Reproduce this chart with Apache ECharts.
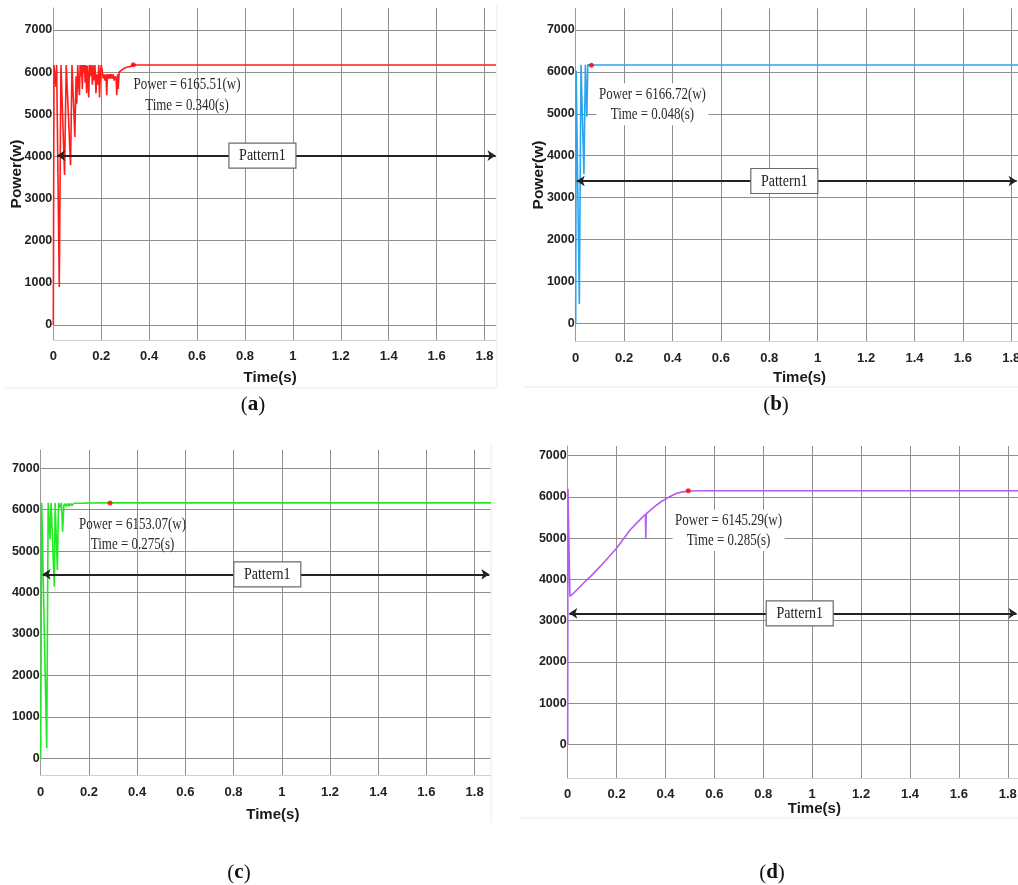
<!DOCTYPE html>
<html><head><meta charset="utf-8">
<script src="https://cdn.jsdelivr.net/npm/echarts@6/dist/echarts.min.js"></script>
<style>html,body{margin:0;padding:0;background:#fff}#c{width:1018px;height:885px}</style>
</head><body><div id="c"></div>
<script>
// ---------- DATA ----------
const panelLetters = ['a', 'b', 'c', 'd'];
const xTitle = 'Time(s)';
const yTitle = 'Power(w)';
const patternLabel = 'Pattern1';

// (a) red
const powerA = [
  [0,0],[0.003,6170],[0.008,6170],[0.011,5650],[0.014,6170],[0.017,6170],[0.025,900],[0.032,6170],
  [0.037,6170],[0.047,3560],[0.054,6170],[0.062,6170],[0.072,3790],[0.078,6170],[0.083,6170],[0.09,4460],
  [0.095,5900],[0.098,5250],[0.102,6170],[0.106,5700],[0.109,5450],[0.112,6170],[0.115,5900],[0.118,6170],
  [0.121,5600],[0.124,6170],[0.127,6000],[0.13,6170],[0.133,5750],[0.136,6170],[0.139,5500],[0.142,6150],
  [0.145,5850],[0.148,5400],[0.151,6170],[0.154,5900],[0.157,6170],[0.16,6100],[0.163,5700],[0.166,6170],
  [0.17,5800],[0.174,6170],[0.178,5500],[0.182,5950],[0.186,5700],[0.19,6170],[0.193,5400],[0.197,6000],
  [0.2,6170],[0.204,6050],[0.208,5850],[0.212,5950],[0.216,5800],[0.22,5950],[0.223,5450],[0.226,5950],
  [0.23,5850],[0.234,5950],[0.238,5850],[0.242,5950],[0.246,5850],[0.25,5950],[0.254,5800],[0.258,5900],
  [0.262,5850],[0.265,5450],[0.268,5950],[0.271,5600],[0.275,6000],[0.28,5980],[0.285,6050],[0.29,6040],
  [0.295,6090],[0.3,6080],[0.31,6120],[0.32,6130],[0.334,6170],[1.848,6170]
];
// (b) blue
const powerB = [
  [0,0],[0.002,6030],[0.006,6030],[0.015,460],[0.022,6170],[0.027,6170],[0.034,3560],[0.04,6170],
  [0.043,6170],[0.046,4930],[0.05,6170],[0.065,6165],[1.85,6165]
];
// (c) green
const powerC = [
  [0,0],[0.004,6165],[0.012,6165],[0.025,240],[0.031,6165],[0.034,6165],[0.0386,5285],[0.043,6165],
  [0.047,6165],[0.0565,4142],[0.06,6165],[0.063,6165],[0.069,4545],[0.074,6165],[0.078,6165],[0.082,6050],
  [0.086,6165],[0.091,5470],[0.096,6100],[0.1,6150],[0.106,6080],[0.112,6150],[0.118,6090],[0.124,6150],
  [0.13,6100],[0.136,6150],[0.142,6110],[0.148,6155],[0.154,6115],[0.16,6155],[0.166,6125],[0.172,6158],
  [0.178,6132],[0.184,6160],[0.19,6142],[0.198,6163],[0.2876,6165],[1.868,6165]
];
// (d) purple
const powerD = [
  [0,0],[0.001,6200],[0.009,3590],[0.02,3640],[0.064,3905],[0.1,4110],[0.132,4308],[0.166,4530],[0.2,4754],
  [0.228,4980],[0.255,5198],[0.288,5400],[0.318,5580],[0.3195,4980],[0.321,5590],[0.342,5700],[0.364,5804],
  [0.385,5895],[0.405,5966],[0.425,6030],[0.446,6087],[0.47,6122],[0.493,6145],[0.55,6150],[1.85,6150]
];
// settle markers (red dots)
const settleA = [[0.334, 6175]];
const settleB = [[0.065, 6160]];
const settleC = [[0.2876, 6165]];
const settleD = [[0.493, 6152]];
// data-tip texts
const tipPower = ['Power = 6165.51(w)', 'Power = 6166.72(w)', 'Power = 6153.07(w)', 'Power = 6145.29(w)'];
const tipTime = ['Time = 0.340(s)', 'Time = 0.048(s)', 'Time = 0.275(s)', 'Time = 0.285(s)'];

// ---------- LAYOUT / STYLE ----------
const series = [powerA, powerB, powerC, powerD];
const settles = [settleA, settleB, settleC, settleD];
const colors = ['#ff1c1c', '#2ea4ee', '#22ea22', '#b25cf2'];
const grids = [
  {left: 53.3, top: 8, width: 442.7, height: 332},
  {left: 575.7, top: 8.3, width: 447.7, height: 333.4},
  {left: 40.7, top: 450, width: 450.3, height: 325.7},
  {left: 567.7, top: 446, width: 452.3, height: 332.3}
];
const xMax = [1.848, 1.85, 1.868, 1.85];
const yMin = [-356, -440, -420, -825];
const yMax = [7522, 7518, 7442, 7235];
const xNameGap = [30, 29, 32, 23];
const xNamePad = [[0, 9, 0, 0], [0, 0, 0, 0], [0, 0, 0, 14], [0, 0, 0, 41]];
// annotation placement (data coords)
const tipPos = [[0.558, 5719, 5221], [0.317, 5465, 4988], [0.381, 5648, 5173], [0.658, 5423, 4955]];
const tipBg = [false, true, false, true];
const arrowPos = [[0.016, 1.846, 4020], [0.004, 1.822, 3396], [0.008, 1.861, 4441], [0.0065, 1.836, 3177]];
const boxPos = [[0.873, 4020], [0.862, 3396], [0.940, 4441], [0.949, 3177]];
const captionPos = [[253, 405], [776, 405], [239, 873], [772, 873]];

const SANS = "'Liberation Sans',Arial,sans-serif";
const SERIF = "'Liberation Serif','Times New Roman',serif";
const GRID_C = '#8e8e8e';

const fmtY = v => (Math.abs(v % 1000) < 1e-6 ? String(Math.round(v)) : '');
const fmtX = v => { const k = v / 0.2; return Math.abs(k - Math.round(k)) < 1e-6 ? String(+v.toFixed(1)) : ''; };

const chart = echarts.init(document.getElementById('c'), null, {renderer: 'canvas'});

const option = {
  animation: false,
  backgroundColor: '#fff',
  grid: grids.map(g => Object.assign({containLabel: false, outerBoundsMode: 'none'}, g)),
  xAxis: grids.map((g, i) => ({
    type: 'value', gridIndex: i, min: 0, max: xMax[i], interval: 0.2,
    name: xTitle, nameLocation: 'middle', nameGap: xNameGap[i], nameMoveOverlap: false,
    nameTextStyle: {fontFamily: SANS, fontWeight: 'bold', fontSize: 15, color: '#1a1a1a', padding: xNamePad[i]},
    axisLine: {show: true, onZero: false, lineStyle: {color: '#d0d0d0', width: 1}},
    axisTick: {show: false},
    axisLabel: {fontFamily: SANS, fontWeight: 'bold', fontSize: 13, color: '#222', margin: 10, formatter: fmtX, hideOverlap: false},
    splitLine: {show: true, showMaxLine: false, lineStyle: {color: GRID_C, width: 1}}
  })),
  yAxis: grids.map((g, i) => ({
    type: 'value', gridIndex: i, min: yMin[i], max: yMax[i], minInterval: 1000, maxInterval: 1000, splitNumber: 8,
    name: i < 2 ? yTitle : '', nameLocation: 'middle', nameGap: 29, nameRotate: 90, nameMoveOverlap: false,
    nameTextStyle: {fontFamily: SANS, fontWeight: 'bold', fontSize: 15.5, color: '#1a1a1a'},
    axisLine: {show: true, lineStyle: {color: '#9a9a9a', width: 1}},
    axisTick: {show: false},
    axisLabel: {fontFamily: SANS, fontWeight: 'bold', fontSize: 12.5, color: '#222', margin: 1, padding: [4, 0, 0, 0], formatter: fmtY, hideOverlap: false},
    splitLine: {show: true, showMinLine: false, showMaxLine: false, lineStyle: {color: GRID_C, width: 1}}
  })),
  series: []
};

series.forEach((data, i) => {
  option.series.push({
    type: 'line', xAxisIndex: i, yAxisIndex: i, data: data, showSymbol: false, symbol: 'none',
    lineStyle: {color: colors[i], width: 1.6}, itemStyle: {color: colors[i]}, z: 3, silent: true,
    markLine: {
      silent: true, symbol: ['arrow', 'arrow'], symbolSize: [8, 8], animation: false,
      label: {show: false},
      lineStyle: {color: '#222', width: 1.8, type: 'solid'},
      emphasis: {disabled: true},
      data: [[{coord: [arrowPos[i][0], arrowPos[i][2]]}, {coord: [arrowPos[i][1], arrowPos[i][2]]}]]
    }
  });
  option.series.push({
    type: 'scatter', xAxisIndex: i, yAxisIndex: i, data: settles[i], symbolSize: 5,
    itemStyle: {color: '#ff0000'}, z: 5, silent: true
  });
});

chart.setOption(option);

// ---------- annotations placed through the axes ----------
const px = (i, t, v) => chart.convertToPixel({xAxisIndex: i, yAxisIndex: i}, [t, v]);
const gfx = [];
tipPos.forEach((p, i) => {
  const a = px(i, p[0], p[1]);
  const b = px(i, p[0], p[2]);
  if (tipBg[i]) {
    gfx.push({type: 'rect', z: 50, shape: {x: a[0] - 56, y: a[1] - 11, width: 112, height: (b[1] - a[1]) + 22},
      style: {fill: '#fff'}});
  }
  gfx.push({type: 'text', z: 60, x: a[0], y: a[1], scaleX: 0.74,
    style: {text: tipPower[i], fontFamily: SERIF, fontSize: 17.5, fill: '#2a2a2a', align: 'center', verticalAlign: 'middle'}});
  gfx.push({type: 'text', z: 60, x: b[0], y: b[1], scaleX: 0.74,
    style: {text: tipTime[i], fontFamily: SERIF, fontSize: 17.5, fill: '#2a2a2a', align: 'center', verticalAlign: 'middle'}});
});
boxPos.forEach((p, i) => {
  const c = px(i, p[0], p[1]);
  gfx.push({type: 'rect', z: 70, shape: {x: c[0] - 33.5, y: c[1] - 12.5, width: 67, height: 25},
    style: {fill: '#fff', stroke: '#6a6a6a', lineWidth: 1.2}});
  gfx.push({type: 'text', z: 71, x: c[0], y: c[1], scaleX: 0.8,
    style: {text: patternLabel, fontFamily: SERIF, fontSize: 17.5, fill: '#222', align: 'center', verticalAlign: 'middle'}});
});
captionPos.forEach((p, i) => {
  gfx.push({type: 'text', z: 60, x: p[0], y: p[1],
    style: {text: '{p|(}{b|' + panelLetters[i] + '}{p|)}', align: 'center', verticalAlign: 'middle',
      rich: {p: {fontFamily: SERIF, fontSize: 21, fill: '#111'}, b: {fontFamily: SERIF, fontSize: 21, fontWeight: 'bold', fill: '#111'}}}});
});
// faint figure frames
[[5, 388, 497, 388], [497, 5, 497, 388], [523, 387, 1018, 387], [491, 445, 491, 823], [520, 818, 1018, 818]].forEach(l => {
  gfx.push({type: 'line', z: 1, shape: {x1: l[0], y1: l[1], x2: l[2], y2: l[3]}, style: {stroke: '#ececec', lineWidth: 1}});
});
chart.setOption({graphic: {elements: gfx}});
</script>
</body></html>
